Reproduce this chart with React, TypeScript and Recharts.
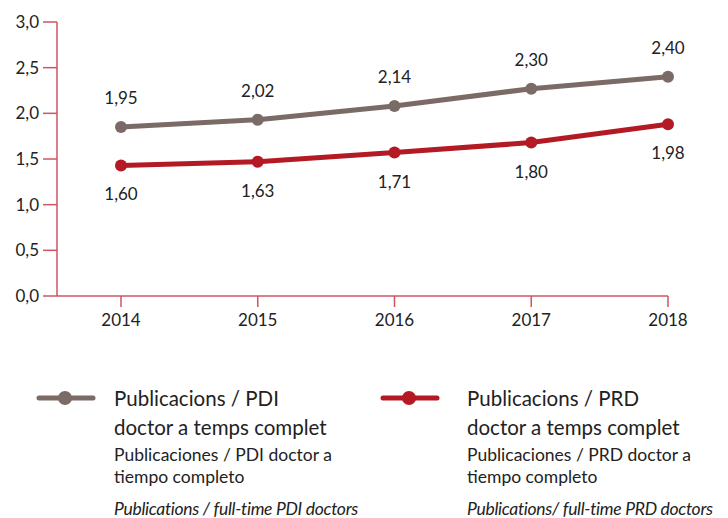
import { LineChart, Line, XAxis, YAxis, LabelList } from 'recharts'

const years = ['2014', '2015', '2016', '2017', '2018']
const pdiValues = [1.85, 1.93, 2.08, 2.27, 2.4]
const prdValues = [1.43, 1.47, 1.57, 1.68, 1.88]
const pdiLabels = ['1,95', '2,02', '2,14', '2,30', '2,40']
const prdLabels = ['1,60', '1,63', '1,71', '1,80', '1,98']
const yTicks = [0, 0.5, 1, 1.5, 2, 2.5, 3]

const GREY = '#7a6b66'
const RED = '#b31a24'
const AXIS = '#cf5560'
const FONT = 'Lato, "Open Sans", sans-serif'

const data = years.map((year, i) => ({
  year,
  pdi: pdiValues[i],
  prd: prdValues[i],
  pdiLabel: pdiLabels[i],
  prdLabel: prdLabels[i]
}))

const fmt = (v: number) => v.toFixed(1).replace('.', ',')

function LegendItem({ left, textLeft, color, l1, l2, l3, l4, l5 }: any) {
  return (
    <>
      <svg width={62} height={20} style={{ position: 'absolute', left, top: 388 }}>
        <line x1={3} y1={10} x2={57} y2={10} stroke={color} strokeWidth={5} strokeLinecap="round" />
        <circle cx={29} cy={10} r={7} fill={color} />
      </svg>
      <div style={{ position: 'absolute', left: textLeft, top: 384, width: 300, color: '#222', fontFamily: FONT }}>
        <div style={{ fontSize: 20.5, lineHeight: '29px' }}>{l1}</div>
        <div style={{ fontSize: 20.5, lineHeight: '29px' }}>{l2}</div>
        <div style={{ fontSize: 17.5, lineHeight: '22px', marginTop: 2, whiteSpace: 'nowrap' }}>{l3}</div>
        <div style={{ fontSize: 17.5, lineHeight: '22px' }}>{l4}</div>
        <div style={{ fontSize: 17.5, lineHeight: '22px', marginTop: 10, fontStyle: 'italic', whiteSpace: 'nowrap', letterSpacing: -0.3 }}>{l5}</div>
      </div>
    </>
  )
}

export default function App() {
  return (
    <div style={{ position: 'absolute', left: 0, top: 0, width: 728, height: 518, background: '#fff', overflow: 'hidden' }}>
      <LineChart width={728} height={330} data={data} margin={{ top: 22, right: 60, bottom: 0, left: 0 }}>
        <YAxis
          domain={[0, 3]}
          ticks={yTicks}
          width={57}
          tickFormatter={fmt}
          stroke={AXIS}
          strokeWidth={1.5}
          tickSize={14}
          tickMargin={4}
          tick={{ fill: '#222', fontSize: 17, fontFamily: FONT }}
        />
        <XAxis
          dataKey="year"
          height={34}
          padding={{ left: 64, right: 0 }}
          stroke={AXIS}
          strokeWidth={1.5}
          tickSize={11}
          tickMargin={7}
          tick={{ fill: '#222', fontSize: 17, fontFamily: FONT }}
        />
        <Line dataKey="pdi" stroke={GREY} strokeWidth={5} dot={{ r: 6, fill: GREY, stroke: GREY, strokeWidth: 0 }} isAnimationActive={false}>
          <LabelList dataKey="pdiLabel" position="top" offset={23} fill="#222" fontSize={17} fontFamily={FONT} />
        </Line>
        <Line dataKey="prd" stroke={RED} strokeWidth={5} dot={{ r: 6, fill: RED, stroke: RED, strokeWidth: 0 }} isAnimationActive={false}>
          <LabelList dataKey="prdLabel" position="bottom" offset={23} fill="#222" fontSize={17} fontFamily={FONT} />
        </Line>
      </LineChart>
      <LegendItem
        left={36}
        textLeft={114}
        color={GREY}
        l1="Publicacions / PDI"
        l2="doctor a temps complet"
        l3="Publicaciones / PDI doctor a"
        l4="tiempo completo"
        l5="Publications / full-time PDI doctors"
      />
      <LegendItem
        left={380}
        textLeft={467}
        color={RED}
        l1="Publicacions / PRD"
        l2="doctor a temps complet"
        l3="Publicaciones / PRD doctor a"
        l4="tiempo completo"
        l5="Publications/ full-time PRD doctors"
      />
    </div>
  )
}
